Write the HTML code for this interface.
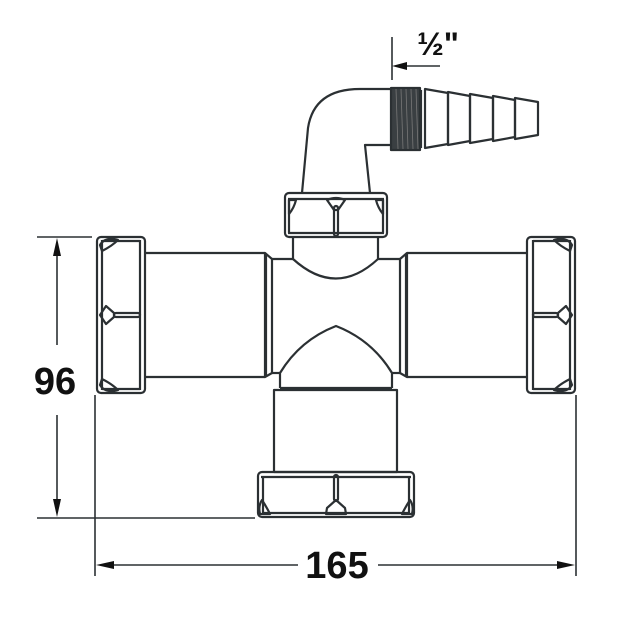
<!DOCTYPE html>
<html><head><meta charset="utf-8"><style>
html,body{margin:0;padding:0;background:#fff;}
svg{display:block;}
text{font-family:"Liberation Sans","DejaVu Sans",sans-serif;font-weight:bold;fill:#111;}
</style></head><body>
<svg width="620" height="620" viewBox="0 0 620 620" xmlns="http://www.w3.org/2000/svg">
<g fill="none" stroke="#2b3033" stroke-width="2.2" stroke-linejoin="round">
<!-- left nut -->
<rect x="97" y="237" width="48" height="156" rx="4"/>
<line x1="102" y1="240" x2="102" y2="390"/>
<line x1="140" y1="240" x2="140" y2="390"/>
<line x1="102" y1="241" x2="140" y2="241"/>
<line x1="102" y1="389" x2="140" y2="389"/>
<path d="M100 245 Q104 238 114 239 L118 240 Q112 246 102 251 Z"/>
<path d="M100 385 Q104 392 114 391 L118 390 Q112 384 102 379 Z"/>
<path d="M100 315 L106 306 L114 313 L114 317 L106 324 Z"/>
<rect x="114" y="313" width="26" height="4" rx="2"/>
<!-- left pipe -->
<line x1="145" y1="253" x2="265" y2="253"/>
<line x1="145" y1="377" x2="265" y2="377"/>
<path d="M265 253 L272 259 L272 373 L265 377 Z"/>
<line x1="266" y1="254" x2="266" y2="377"/>
<!-- center body -->
<line x1="272" y1="259" x2="293" y2="259"/>
<line x1="378" y1="259" x2="400" y2="259"/>
<line x1="272" y1="373" x2="280" y2="373"/>
<line x1="392" y1="373" x2="400" y2="373"/>
<path d="M293 237 L293 259 Q336 298 378 259 L378 237"/>
<path d="M280 388 L280 373 Q300 340 336 326 Q372 340 392 373 L392 388"/>
<line x1="280" y1="388" x2="392" y2="388"/>
<!-- right pipe -->
<path d="M400 259 L407 253 L407 377 L400 373 Z"/>
<line x1="406" y1="254" x2="406" y2="377"/>
<line x1="407" y1="253" x2="527" y2="253"/>
<line x1="407" y1="377" x2="527" y2="377"/>
<!-- right nut -->
<rect x="527" y="237" width="48" height="156" rx="4"/>
<line x1="533" y1="240" x2="533" y2="390"/>
<line x1="570" y1="240" x2="570" y2="390"/>
<line x1="533" y1="241" x2="570" y2="241"/>
<line x1="533" y1="389" x2="570" y2="389"/>
<path d="M572 245 Q568 238 558 239 L554 240 Q560 246 570 251 Z"/>
<path d="M572 385 Q568 392 558 391 L554 390 Q560 384 570 379 Z"/>
<path d="M572 315 L566 306 L558 313 L558 317 L566 324 Z"/>
<rect x="533" y="313" width="25" height="4" rx="2"/>
<!-- lower tube -->
<rect x="274" y="390" width="123" height="82"/>
<!-- bottom nut -->
<rect x="258" y="472" width="156" height="45" rx="4"/>
<line x1="261" y1="477" x2="411" y2="477"/>
<line x1="263" y1="513" x2="409" y2="513"/>
<line x1="263" y1="477" x2="263" y2="513"/>
<line x1="409" y1="477" x2="409" y2="513"/>
<rect x="334" y="475" width="4" height="26" rx="2"/>
<path d="M336 500 L327 508 L326 514 L346 514 L345 508 Z"/>
<path d="M262 500 Q266 506 270 514 L260 514 Q258 506 262 500 Z"/>
<path d="M410 500 Q406 506 402 514 L412 514 Q414 506 410 500 Z"/>
<!-- top nut -->
<rect x="285" y="193" width="102" height="44" rx="4"/>
<line x1="288" y1="199" x2="384" y2="199"/>
<line x1="288" y1="233" x2="384" y2="233"/>
<line x1="289" y1="199" x2="289" y2="233"/>
<line x1="383" y1="199" x2="383" y2="233"/>
<path d="M327 200 Q336 196 345 200 L338 210 L334 210 Z"/>
<rect x="334" y="206" width="4" height="30" rx="2"/>
<path d="M289 200 L296 200 Q294 208 289 214 Z"/>
<path d="M383 200 L376 200 Q378 208 383 214 Z"/>
<!-- elbow -->
<path d="M302 193 L308 128 Q314 89 360 89 L391 89"/>
<path d="M370 193 L365 145 L391 145"/>
<!-- thread -->
<rect x="391" y="88" width="29" height="62" fill="#3a3f42"/>
<g stroke="#777" stroke-width="0.8">
<line x1="396" y1="89" x2="398" y2="149"/><line x1="401" y1="89" x2="403" y2="149"/><line x1="406" y1="89" x2="408" y2="149"/><line x1="411" y1="89" x2="413" y2="149"/><line x1="416" y1="89" x2="418" y2="149"/>
</g>
<line x1="421" y1="90" x2="421" y2="148"/>
<!-- barbs -->
<path d="M425 89 L425 148 L448 144 L448 93 Z"/>
<path d="M448 92 L448 145 L470 141 L470 96 Z"/>
<path d="M470 94 L470 143 L493 139 L493 98 Z"/>
<path d="M493 96 L493 141 L515 137 L515 100 Z"/>
<path d="M515 98 L515 139 L538 135 L538 102 Z"/>
</g>
<!-- dimension lines -->
<g stroke="#2b3033" stroke-width="1.6" fill="none">
<line x1="392" y1="37" x2="392" y2="80"/>
<line x1="398" y1="66" x2="440" y2="66"/>
<line x1="37" y1="237" x2="92" y2="237"/>
<line x1="37" y1="518" x2="255" y2="518"/>
<line x1="57" y1="248" x2="57" y2="345"/>
<line x1="57" y1="415" x2="57" y2="508"/>
<line x1="95" y1="395" x2="95" y2="576"/>
<line x1="576" y1="395" x2="576" y2="576"/>
<line x1="105" y1="565" x2="298" y2="565"/>
<line x1="378" y1="565" x2="566" y2="565"/>
</g>
<g fill="#111">
<polygon points="392,66 407,62 407,70"/>
<polygon points="57,238 53,256 61,256"/>
<polygon points="57,517 53,499 61,499"/>
<polygon points="96,565 114,561 114,569"/>
<polygon points="575,565 557,561 557,569"/>
</g>
<text x="55" y="394" font-size="38" text-anchor="middle">96</text>
<text x="337" y="578" font-size="38" text-anchor="middle">165</text>
<text x="438" y="55" font-size="32" text-anchor="middle">½"</text>
</svg>
</body></html>
